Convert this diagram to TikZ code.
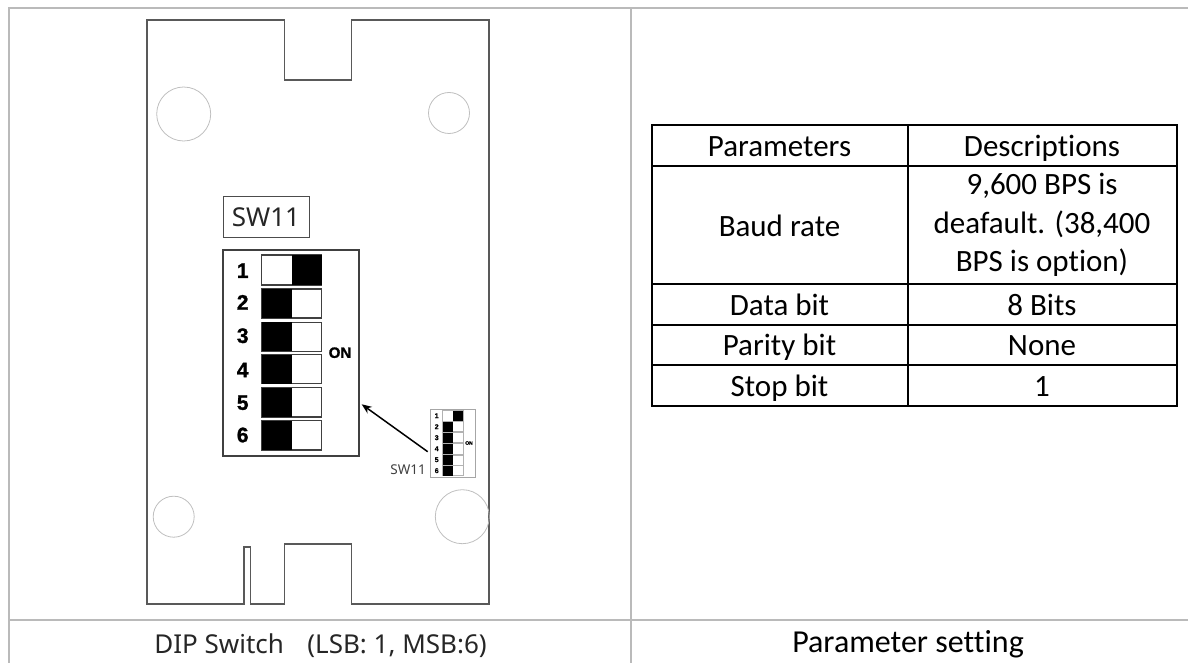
\documentclass[tikz,border=0pt]{standalone}
\usepackage{fontspec}
\usetikzlibrary{arrows.meta}
\setmainfont{Carlito}[Ligatures={NoCommon}]
\newfontfamily\noto{Noto Sans}
\newfontfamily\arib{Liberation Sans}[BoldFont={Liberation Sans Bold},BoldFeatures={FakeBold=1.2}]
\tikzset{
  gridline/.style={draw=black!27,line width=2pt},
  board/.style={draw=black!65,line width=1.4pt,line join=miter},
  hole/.style={draw=black!25,line width=0.8pt},
  tbl/.style={draw=black,line width=2pt},
  cell/.style={font=\fontsize{31}{38.5}\selectfont,align=center,text=black,inner sep=0pt,anchor=base},
  capA/.style={font=\noto\fontsize{26}{30}\selectfont,text=black!85,inner sep=0pt},
  digit/.style={font=\arib\bfseries\fontsize{21}{21}\selectfont,inner sep=0pt},
  tiny/.style={font=\arib\bfseries\fontsize{7}{7}\selectfont,inner sep=0pt},
  tog/.style={draw=black!75,line width=1.2pt},
  togs/.style={draw=black!30,line width=0.8pt},
}
\begin{document}
\begin{tikzpicture}[x=1pt,y=-1pt]
\useasboundingbox (0,0) rectangle (1188,663);
% outer grid
\draw[gridline] (1188,8) -- (9,8) -- (9,663);
\draw[gridline] (631,8) -- (631,663);
\draw[gridline] (9,620) -- (1188,620);
% board
\draw[board] (147,20) -- (284.3,20) -- (284.3,80) -- (351.7,80) -- (351.7,20) -- (489,20)
  -- (489,604) -- (351.7,604) -- (351.7,544) -- (284.3,544) -- (284.3,604)
  -- (250.7,604) -- (250.7,547) -- (244,547) -- (244,604) -- (147,604) -- cycle;
\node[hole,circle,minimum size=54pt,inner sep=0pt] (h1) at (183.7,114) {};
\node[hole,circle,minimum size=41pt,inner sep=0pt] (h2) at (449,113) {};
\node[hole,circle,minimum size=41pt,inner sep=0pt] (h3) at (173.7,516.7) {};
\node[hole,circle,minimum size=54pt,inner sep=0pt] (h4) at (462.3,516.7) {};
% label
\node[draw=black!70,line width=1pt,minimum width=86pt,minimum height=40pt,inner sep=0pt,capA] (lab) at (266,217) {SW11};
% large dip
\node[draw=black!75,line width=1.4pt,minimum width=136pt,minimum height=206pt,inner sep=0pt] (dip) at (291,353) {};
\foreach \n/\t/\b/\c in {1/255/285/270.7,2/289/318/302.3,3/322.3/351.3/335.7,4/354.7/383.7/370,5/387.7/417/402.7,6/420.7/450/435}{
  \node[digit] (d\n) at (242.7,\c) {\n};
  \draw[tog] (261.7,\t) rectangle (321.7,\b);
}
\fill (291.7,255) rectangle (321.7,285);
\foreach \t/\b in {289/318,322.3/351.3,354.7/383.7,387.7/417,420.7/450}{
  \fill (261.7,\t) rectangle (291.7,\b);
}
\node[digit,font=\arib\bfseries\fontsize{15}{15}\selectfont] (on) at (340,352.7) {ON};
% small dip
\node[draw=black!35,line width=0.8pt,minimum width=45.7pt,minimum height=68pt,inner sep=0pt] (sdip) at (452.8,443.3) {};
\foreach \n/\t/\b/\c in {1/410.7/421/415.7,2/421.7/431.7/426.7,3/432.7/442.7/437.7,4/443.7/454/448.7,5/455/465/459.7,6/465.7/475.7/470.7}{
  \node[tiny] (e\n) at (436.7,\c) {\n};
  \draw[togs] (442.7,\t) rectangle (463.3,\b);
}
\fill (452.7,410.7) rectangle (463.3,421);
\foreach \t/\b in {421.7/431.7,432.7/442.7,443.7/454,455/465,465.7/475.7}{
  \fill (442.7,\t) rectangle (452.7,\b);
}
\node[tiny,font=\arib\bfseries\fontsize{5}{5}\selectfont] (son) at (469,443) {ON};
\node[font=\noto\fontsize{13.5}{13.5}\selectfont,text=black!75,inner sep=0pt,anchor=east] (slab) at (426,469.3) {SW11};
% arrow
\coordinate (arrowfrom) at (427.7,451.7);
\coordinate (arrowto) at (361.7,404.3);
\draw[line width=1.5pt,-{Stealth[length=10pt,width=8pt]}] (arrowfrom) -- (arrowto);
% table
\draw[tbl] (651.5,125) rectangle (1177,405.5);
\draw[tbl] (907.5,125) -- (907.5,405.5);
\foreach \y in {166,284,325,365}{ \draw[tbl] (651.5,\y) -- (1177,\y); }
\node[cell] (c11) at (779.5,156.7) {Parameters};
\node[cell] (c12) at (1042,156.7) {Descriptions};
\node[cell] (c21) at (779.5,236.7) {Baud rate};
\node[cell,anchor=center] (c22) at (1042,225) {9,600 BPS is\\deafault. (38,400\\BPS is option)};
\node[cell] (c31) at (779.5,315.7) {Data bit};
\node[cell] (c32) at (1042,315.7) {8 Bits};
\node[cell] (c41) at (779.5,355.7) {Parity bit};
\node[cell] (c42) at (1042,355.7) {None};
\node[cell] (c51) at (779.5,396) {Stop bit};
\node[cell] (c52) at (1042,396) {1};
% captions
\node[capA] (capl) at (320.5,646) {DIP Switch\hspace{0.9em}(LSB: 1, MSB:6)};
\node[cell,font=\fontsize{32}{38}\selectfont] (capr) at (908,652) {Parameter setting};
\end{tikzpicture}
\end{document}
